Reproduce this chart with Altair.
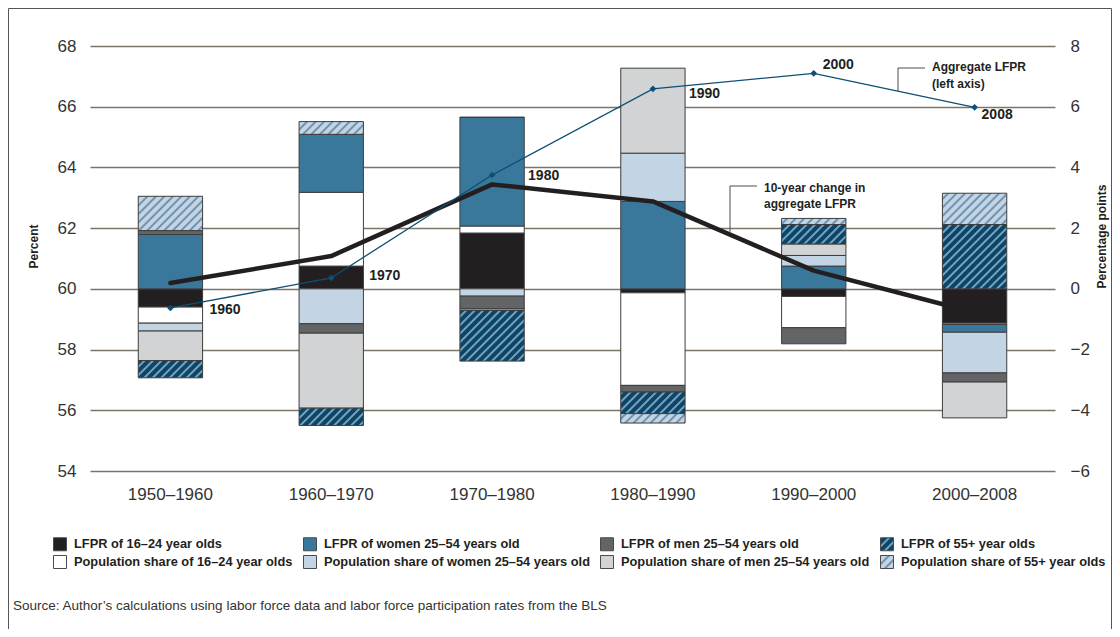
import altair as alt
import pandas as pd
import jinja2

# ---------------- data ----------------
periods = ["1950–1960", "1960–1970", "1970–1980", "1980–1990", "1990–2000", "2000–2008"]

components = [
    "LFPR of 16–24 year olds",
    "Population share of 16–24 year olds",
    "LFPR of women 25–54 years old",
    "Population share of women 25–54 years old",
    "LFPR of men 25–54 years old",
    "Population share of men 25–54 years old",
    "LFPR of 55+ year olds",
    "Population share of 55+ year olds",
]

lfpr_16_24 = [-0.60, 0.75, 1.84, -0.13, -0.25, -1.13]
pop_16_24 = [-0.53, 2.43, 0.23, -3.05, -1.03, -0.04]
lfpr_women = [1.79, 1.91, 3.58, 2.88, 0.75, -0.26]
pop_women = [-0.26, -1.15, -0.24, 1.59, 0.35, -1.34]
lfpr_men = [0.13, -0.31, -0.42, -0.22, -0.53, -0.30]
pop_men = [-0.97, -2.47, -0.05, 2.80, 0.38, -1.18]
lfpr_55 = [-0.57, -0.57, -1.67, -0.71, 0.64, 2.12]
pop_55 = [1.13, 0.42, 0.00, -0.31, 0.20, 1.03]

change_10yr = [0.19, 1.08, 3.44, 2.88, 0.60, -0.78]

agg_years = ["1960", "1970", "1980", "1990", "2000", "2008"]
agg_lfpr = [59.37, 60.36, 63.75, 66.59, 67.10, 65.98]

left_ticks = [54, 56, 58, 60, 62, 64, 66, 68]
right_ticks = [-6, -4, -2, 0, 2, 4, 6, 8]

source_text = "Source: Author’s calculations using labor force data and labor force participation rates from the BLS"
agg_note = ["Aggregate LFPR", "(left axis)"]
change_note = ["10-year change in", "aggregate LFPR"]

# ---------------- tables ----------------
series = [lfpr_16_24, pop_16_24, lfpr_women, pop_women, lfpr_men, pop_men, lfpr_55, pop_55]
rows = []
for ci, (comp, vals) in enumerate(zip(components, series)):
    for p, v in zip(periods, vals):
        rows.append({"period": p, "component": comp, "value": v, "stack_idx": ci})
bar_df = pd.DataFrame(rows)
change_df = pd.DataFrame({"period": periods, "change": change_10yr})
agg_df = pd.DataFrame({"period": periods, "year": agg_years, "lfpr": agg_lfpr})
one = pd.DataFrame({"k": [0]})

color_map = {
    components[0]: "#231f20",
    components[1]: "#ffffff",
    components[2]: "#3a789b",
    components[3]: "#c3d4e4",
    components[4]: "#636466",
    components[5]: "#d1d3d4",
    components[6]: "url(#hatchDark)",
    components[7]: "url(#hatchLight)",
}
legend_colors = [color_map[c] for c in components]

FONT = "Liberation Sans"
INK = "#231f20"

# ---------------- encodings ----------------
x_enc = alt.X(
    "period:N", sort=periods,
    scale=alt.Scale(paddingInner=0.6, paddingOuter=0.3),
    axis=alt.Axis(title=None, labelAngle=0, ticks=False, domain=False, labelFontSize=17,
                  labelColor="#333333", labelPadding=15, labelFont=FONT),
)

pp_scale = alt.Scale(domain=[-6, 8], nice=False, zero=False)
pp_axis = alt.Axis(orient="right", values=right_ticks, grid=False, ticks=False, domain=False,
                   labelFontSize=17, labelColor="#333333", labelPadding=15, labelFont=FONT,
                   title="Percentage points", titleFontSize=12, titleFontWeight="bold",
                   titleColor=INK, titleFont=FONT, titleAngle=-90, titleX=46, titleY=190,
                   titleAlign="center", titleBaseline="middle")

pc_scale = alt.Scale(domain=[54, 68], nice=False, zero=False)
pc_axis = alt.Axis(orient="left", values=left_ticks, grid=True, gridColor="#7c7568",
                   gridWidth=1.3, ticks=False, domain=False,
                   labelFontSize=17, labelColor="#333333", labelPadding=14, labelFont=FONT,
                   title="Percent", titleFontSize=12, titleFontWeight="bold",
                   titleColor=INK, titleFont=FONT, titleAngle=-90, titleX=-57, titleY=200,
                   titleAlign="center", titleBaseline="middle")

bars = alt.Chart(bar_df).mark_bar(stroke="#3d3d3d", strokeWidth=1).encode(
    x=x_enc,
    y=alt.Y("value:Q", stack="zero", scale=pp_scale, axis=pp_axis),
    color=alt.Color(
        "component:N",
        scale=alt.Scale(domain=components, range=legend_colors),
        legend=alt.Legend(
            title=None, orient="none", legendX=-37, legendY=491, columns=4,
            symbolType="square", symbolSize=169, symbolStrokeColor="#4a4a4a",
            symbolStrokeWidth=1, labelFont=FONT, labelFontSize=12.8,
            labelFontWeight="bold", labelColor=INK, labelLimit=500, labelOffset=7,
            columnPadding=8, rowPadding=0, padding=0, gridAlign="each",
        ),
    ),
    order=alt.Order("stack_idx:Q", sort="ascending"),
)

change_line = alt.Chart(change_df).mark_line(
    color=INK, strokeWidth=4.5, strokeCap="round", strokeJoin="round"
).encode(
    x=x_enc,
    y=alt.Y("change:Q", scale=pp_scale, axis=pp_axis),
)

pp_layer = alt.layer(bars, change_line)

agg_line = alt.Chart(agg_df).mark_line(color="#0e4f76", strokeWidth=1.3).encode(
    x=x_enc, y=alt.Y("lfpr:Q", scale=pc_scale, axis=pc_axis)
)
agg_pts = alt.Chart(agg_df).mark_point(
    shape="diamond", filled=True, size=45, color="#0e4f76", opacity=1
).encode(x=x_enc, y=alt.Y("lfpr:Q", scale=pc_scale, axis=pc_axis))

label_offsets = {"1960": (39, 2.5), "1970": (38, -2), "1980": (36, 1),
                 "1990": (36, 5), "2000": (9, -8), "2008": (7, 8)}
year_labels = []
for yr in agg_years:
    dx, dy = label_offsets[yr]
    year_labels.append(
        alt.Chart(agg_df).transform_filter(alt.datum.year == yr).mark_text(
            align="left", baseline="middle", dx=dx, dy=dy, fontSize=14,
            fontWeight="bold", color=INK, font=FONT
        ).encode(x=x_enc, y=alt.Y("lfpr:Q", scale=pc_scale, axis=pc_axis), text="year:N")
    )

pc_layer = alt.layer(agg_line, agg_pts, *year_labels)

# ---------------- annotations ----------------
note_style = dict(align="left", baseline="alphabetic", fontSize=12, fontWeight="bold",
                  color=INK, font=FONT)
agg_text = alt.Chart(one).mark_text(lineHeight=16.5, **note_style).encode(
    x=alt.value(842), y=alt.value(25), text=alt.value(agg_note))
change_text = alt.Chart(one).mark_text(lineHeight=16, **note_style).encode(
    x=alt.value(674), y=alt.value(145.5), text=alt.value(change_note))

rule_style = dict(color="#4d4d4d", strokeWidth=1)
c1 = alt.Chart(one).mark_rule(**rule_style).encode(x=alt.value(808), y=alt.value(22), y2=alt.value(45))
c2 = alt.Chart(one).mark_rule(**rule_style).encode(x=alt.value(808), x2=alt.value(835), y=alt.value(22))
c3 = alt.Chart(one).mark_rule(**rule_style).encode(x=alt.value(640), y=alt.value(140), y2=alt.value(186))
c4 = alt.Chart(one).mark_rule(**rule_style).encode(x=alt.value(640), x2=alt.value(667), y=alt.value(140))

src = alt.Chart(one).mark_text(align="left", baseline="middle", fontSize=13.5,
                               color="#333333", font=FONT).encode(
    x=alt.value(-77), y=alt.value(560), text=alt.value(source_text))

frame = alt.Chart(one).mark_rect(fillOpacity=0, stroke="#555555", strokeWidth=1).encode(
    x=alt.value(-81.5), x2=alt.value(1021.5), y=alt.value(-37.5), y2=alt.value(640))

chart = alt.layer(
    pp_layer, pc_layer, agg_text, change_text, c1, c2, c3, c4, src, frame
).resolve_scale(y="independent").properties(
    width=965, height=425,
    autosize=alt.AutoSizeParams(type="none"),
    padding={"left": 82, "top": 38, "right": 57, "bottom": 158},
).configure(font=FONT).configure_view(strokeWidth=0)

TEMPLATE = jinja2.Template("""<!DOCTYPE html>
<html>
<head>
  <meta charset="utf-8">
  <style>
    #{{ output_div }}.vega-embed { width: 100%; display: flex; }
    #{{ output_div }}.vega-embed details,
    #{{ output_div }}.vega-embed details summary { position: relative; }
  </style>
  <script type="text/javascript" src="{{ base_url }}/vega@{{ vega_version }}"></script>
  <script type="text/javascript" src="{{ base_url }}/vega-lite@{{ vegalite_version }}"></script>
  <script type="text/javascript" src="{{ base_url }}/vega-embed@{{ vegaembed_version }}"></script>
</head>
<body>
  <svg width="0" height="0" style="position:absolute;left:0;top:0">
    <defs>
      <pattern id="hatchDark" patternUnits="userSpaceOnUse" width="6" height="6" patternTransform="rotate(45)">
        <rect x="0" y="0" width="6" height="6" fill="#08466b"></rect>
        <line x1="3" y1="0" x2="3" y2="6" stroke="#cddbe8" stroke-width="1.2"></line>
      </pattern>
      <pattern id="hatchLight" patternUnits="userSpaceOnUse" width="6" height="6" patternTransform="rotate(45)">
        <rect x="0" y="0" width="6" height="6" fill="#c3d4e4"></rect>
        <line x1="3" y1="0" x2="3" y2="6" stroke="#1f5378" stroke-width="1"></line>
      </pattern>
    </defs>
  </svg>
  <div id="{{ output_div }}"></div>
  <script>
    (function(vegaEmbed) {
      var spec = {{ spec }};
      var embedOpt = {{ embed_options }};
      function showError(el, error){
        el.innerHTML = ('<div style="color:red;"><p>JavaScript Error: ' + error.message + '</p></div>');
        throw error;
      }
      const el = document.getElementById('{{ output_div }}');
      vegaEmbed("#{{ output_div }}", spec, embedOpt).catch(error => showError(el, error));
    })(vegaEmbed);
  </script>
</body>
</html>
""")

chart.save("out.html", embed_options={"renderer": "svg", "actions": False}, template=TEMPLATE)
